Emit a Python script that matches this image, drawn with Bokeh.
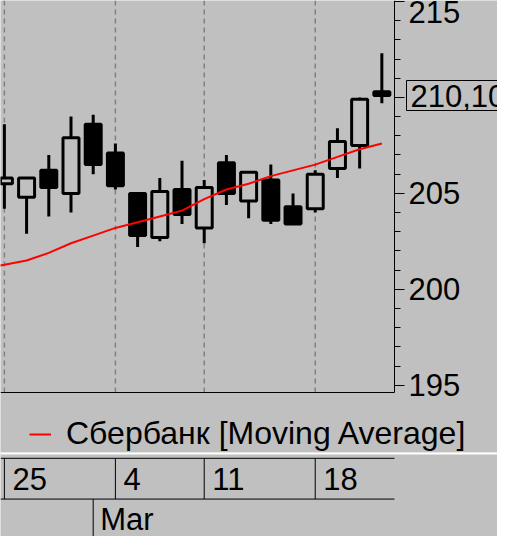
import datetime
from bokeh.plotting import figure
from bokeh.models import (Range1d, FixedTicker, Label, Span, Legend, LegendItem,
                          ColumnDataSource, LinearAxis)
from bokeh.layouts import column
from bokeh.embed import file_html
from bokeh.resources import INLINE
from bokeh.core.properties import value

# ---------------- data ----------------
days = ["2019-02-22", "2019-02-25", "2019-02-26", "2019-02-27", "2019-02-28", "2019-03-01",
        "2019-03-04", "2019-03-05", "2019-03-06", "2019-03-07",
        "2019-03-11", "2019-03-12", "2019-03-13", "2019-03-14", "2019-03-15",
        "2019-03-18", "2019-03-19", "2019-03-20", "2019-03-21"]
# OHLC for days[1:]
open_ = [205.5, 204.8, 206.2, 205.0, 208.6, 207.1, 205.0, 202.7, 205.2, 203.2,
         206.6, 204.6, 205.7, 204.3, 204.2, 206.3, 207.5, 210.3]
high = [208.6, 205.8, 207.0, 209.0, 209.1, 207.6, 205.0, 205.8, 206.7, 205.7,
        207.0, 206.1, 206.5, 205.0, 206.2, 208.4, 210.0, 212.3]
low = [204.2, 202.9, 203.8, 204.0, 206.0, 205.2, 202.2, 202.5, 203.4, 202.4,
       204.4, 203.7, 203.4, 203.4, 204.0, 205.8, 206.3, 209.7]
close = [205.8, 205.8, 205.3, 207.9, 206.5, 205.4, 202.8, 205.1, 203.9, 205.3,
         205.0, 206.1, 203.6, 203.4, 206.0, 207.7, 209.9, 210.1]
# moving average for all days
ma = [201.1, 201.28, 201.5, 201.9, 202.4, 202.8, 203.2, 203.5, 203.8, 204.1,
      204.7, 205.2, 205.5, 205.9, 206.2, 206.5, 206.9, 207.3, 207.6]
series_name = "Сбербанк [Moving Average]"
y_major = [195, 200, 205, 210, 215]
y_minor = list(range(195, 216))
month_names = ["Jan", "Feb", "Mar", "Apr", "May", "Jun", "Jul", "Aug", "Sep", "Oct", "Nov", "Dec"]

# ---------------- styles / layout ----------------
BG = "#C0C0C0"
FONT = "Liberation Sans"
FS = "31px"
FS_LEG = "32px"
W = 497
H_TOP = 452
H_BOT = 84
FW = 394          # width of the candle area
FH = 392          # height of the candle area

dates = [datetime.date.fromisoformat(d) for d in days]
idx_all = list(range(-1, len(days) - 1))          # 0 = first visible candle
cidx = idx_all[1:]

week_idx, week_lbl, month_idx, month_lbl = [], [], [], []
for k in range(1, len(dates)):
    if dates[k].weekday() < dates[k - 1].weekday():
        week_idx.append(idx_all[k])
        week_lbl.append(str(dates[k].day))
    if dates[k].month != dates[k - 1].month:
        month_idx.append(idx_all[k])
        month_lbl.append(month_names[dates[k].month - 1])

# candle area ranges, extended over the full canvas
x0, x1 = -0.175, 17.57
y0, y1 = 194.625, 215.05
xR = x0 + (x1 - x0) * W / FW
yB = y0 - (y1 - y0) * (H_TOP - FH) / FH
xr = Range1d(x0, xR)

p = figure(width=W, height=H_TOP, x_range=xr, y_range=Range1d(yB, y1),
           output_backend="svg", toolbar_location=None,
           x_axis_location=None, y_axis_location=None,
           min_border_left=0, min_border_top=0, min_border_right=0, min_border_bottom=0,
           background_fill_color=BG, border_fill_color=BG, outline_line_color=None)
p.grid.visible = False

# vertical dashed week grid (within candle area)
p.segment(x0=week_idx, x1=week_idx, y0=[y0] * len(week_idx), y1=[y1] * len(week_idx),
          line_color="#808080", line_dash="5 4", line_width=1.5)
# bottom border of candle area
p.segment(x0=[x0], x1=[x1], y0=[y0], y1=[y0], line_color="black", line_width=1)

# right price axis at the edge of the candle area
ya = LinearAxis(fixed_location=x1, bounds=(y0, y1),
                ticker=FixedTicker(ticks=y_major, minor_ticks=y_minor))
ya.axis_line_color = "black"
ya.axis_line_width = 1
ya.major_tick_line_color = "black"
ya.minor_tick_line_color = "black"
ya.major_tick_in = 0
ya.minor_tick_in = 0
ya.major_tick_out = 10
ya.minor_tick_out = 6
ya.major_label_standoff = 4
ya.major_label_text_font = FONT
ya.major_label_text_font_size = FS
ya.major_label_text_color = "black"
p.add_layout(ya, "right")

# candles
up = [c >= o for o, c in zip(open_, close)]
src = ColumnDataSource(dict(
    x=cidx, o=open_, h=high, l=low, c=close,
    top=[max(o, c) for o, c in zip(open_, close)],
    bot=[min(o, c) for o, c in zip(open_, close)],
    fill=[BG if u else "black" for u in up],
))
p.segment(x0="x", y0="l", x1="x", y1="h", source=src, line_color="black", line_width=3)
p.vbar(x="x", top="top", bottom="bot", width=0.72, source=src,
       fill_color="fill", line_color="black", line_width=3)

# moving average
ma_r = p.line(idx_all, ma, line_color="#FF0000", line_width=2)

legend = Legend(items=[LegendItem(label=series_name, renderers=[ma_r])],
                location=(29, 0), orientation="horizontal")
legend.background_fill_alpha = 0
legend.border_line_alpha = 0
legend.padding = 0
legend.margin = 0
legend.glyph_width = 22
legend.label_standoff = 15
legend.label_text_font = FONT
legend.label_text_font_size = FS_LEG
legend.label_text_color = "black"
p.add_layout(legend)

# current price marker, just right of the candle area
price = Label(x=x0 + (FW + 12) / FW * (x1 - x0), y=close[-1],
              text=f"{close[-1]:.2f}".replace(".", ","),
              text_font=FONT, text_font_size=FS, text_color="black",
              text_align="left", text_baseline="middle",
              background_fill_color=BG, border_line_color="black", border_line_width=1,
              padding=4)
p.add_layout(price)

# ---------------- time strip ----------------
q = figure(width=W, height=H_BOT, x_range=xr, y_range=Range1d(0.081, 2.143),
           output_backend="svg", toolbar_location=None,
           x_axis_location=None, y_axis_location=None,
           min_border_left=0, min_border_right=0, min_border_top=0, min_border_bottom=0,
           background_fill_color=BG, border_fill_color=BG, outline_line_color=None)
q.grid.visible = False

q.add_layout(Span(location=2.119, dimension="width", line_color="white", line_width=2))
q.segment(x0=[x0, x0], x1=[x1, x1], y0=[2, 1], y1=[2, 1], line_color="black", line_width=1)
q.segment(x0=week_idx, x1=week_idx, y0=[1] * len(week_idx), y1=[2] * len(week_idx),
          line_color="black", line_width=1)
q.segment(x0=month_idx, x1=month_idx, y0=[0] * len(month_idx), y1=[1] * len(month_idx),
          line_color="black", line_width=1)
q.text(x=week_idx, y=[1.5] * len(week_idx), text=week_lbl, x_offset=8,
       text_align="left", text_baseline="middle", text_font=value(FONT),
       text_font_size=FS, text_color="black")
q.text(x=month_idx, y=[0.5] * len(month_idx), text=month_lbl, x_offset=7,
       text_align="left", text_baseline="middle", text_font=value(FONT),
       text_font_size=FS, text_color="black")

layout = column(p, q, spacing=0)
open("out.html", "w").write(file_html(layout, INLINE))
